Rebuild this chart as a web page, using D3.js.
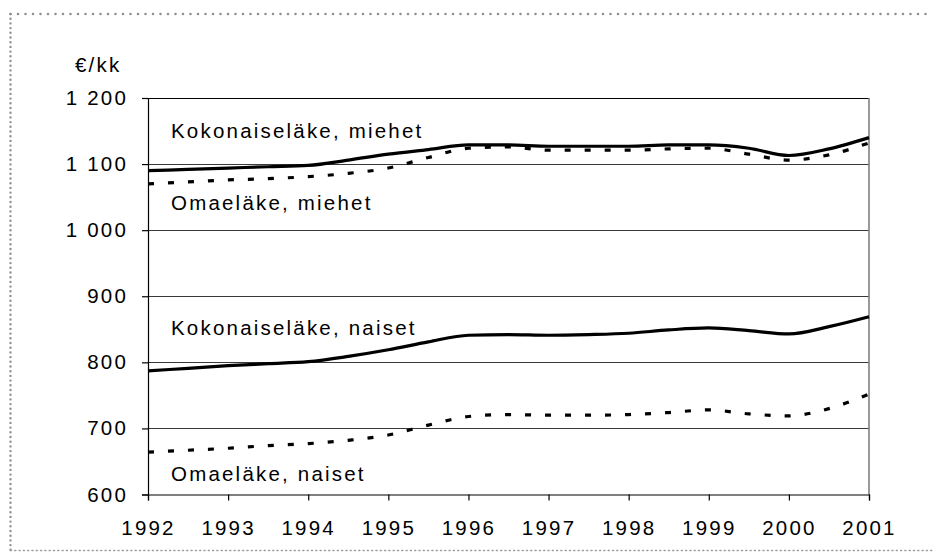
<!DOCTYPE html>
<html>
<head>
<meta charset="utf-8">
<script src="https://cdn.jsdelivr.net/npm/d3@7"></script>
<style>
  body { margin: 0; background: #fff; }
  svg text { font-family: "Liberation Sans", Arial, sans-serif; font-size: 20.5px; letter-spacing: 2.2px; fill: #000; }
</style>
</head>
<body>
<div id="chart"></div>
<script>
// half-year points 1992 ... 2001
const years = [1992, 1992.5, 1993, 1993.5, 1994, 1994.5, 1995, 1995.5, 1996, 1996.5,
               1997, 1997.5, 1998, 1998.5, 1999, 1999.5, 2000, 2000.5, 2001];
const kokMiehet = [1090, 1092, 1094, 1096, 1098, 1106, 1115, 1122, 1129, 1129,
                   1127, 1127, 1127, 1129, 1129, 1124, 1113, 1123, 1140];
const omaMiehet = [1070, 1073, 1076, 1078, 1081, 1086, 1094, 1110, 1124, 1126,
                   1121, 1121, 1121, 1123, 1124, 1115, 1106, 1114, 1132];
const kokNaiset = [787, 791, 795, 798, 801, 809, 819, 831, 841, 842,
                   841, 842, 844, 849, 852, 848, 843, 854, 869];
const omaNaiset = [664, 667, 670, 674, 677, 682, 690, 705, 718, 721,
                   720, 720, 721, 724, 728, 722, 719, 730, 752];
const xTicks = [1992, 1993, 1994, 1995, 1996, 1997, 1998, 1999, 2000, 2001];
const yTicks = [600, 700, 800, 900, 1000, 1100, 1200];
const labels = [
  { text: "Kokonaiseläke, miehet", y: 138 },
  { text: "Omaeläke, miehet", y: 210 },
  { text: "Kokonaiseläke, naiset", y: 335 },
  { text: "Omaeläke, naiset", y: 481 }
];

const W = 933, H = 552;
const plotL = 148, plotR = 869, plotT = 98, plotB = 494.5;

const svg = d3.select("#chart").append("svg")
  .attr("width", W).attr("height", H);

// dotted frame
svg.append("line").attr("x1", 10.5).attr("x2", W).attr("y1", 14).attr("y2", 14)
  .attr("stroke", "#8f8f8f").attr("stroke-width", 2.6)
  .attr("stroke-linecap", "round").attr("stroke-dasharray", "0 7.5");
svg.append("line").attr("x1", 10.5).attr("x2", 10.5).attr("y1", 14).attr("y2", 551)
  .attr("stroke", "#8f8f8f").attr("stroke-width", 2.4)
  .attr("stroke-linecap", "round").attr("stroke-dasharray", "0 4.7");
svg.append("line").attr("x1", 10.5).attr("x2", W).attr("y1", 550.5).attr("y2", 550.5)
  .attr("stroke", "#9a9a9a").attr("stroke-width", 1.5)
  .attr("stroke-linecap", "round").attr("stroke-dasharray", "1 3.3");

const x = d3.scaleLinear().domain([1992, 2001]).range([plotL, plotR]);
const y = d3.scaleLinear().domain([600, 1200]).range([plotB, plotT]);

// gridlines
svg.append("g").selectAll("line")
  .data(yTicks.filter(d => d > 600 && d < 1200))
  .join("line")
  .attr("x1", plotL).attr("x2", plotR)
  .attr("y1", d => Math.round(y(d)) + 0.5).attr("y2", d => Math.round(y(d)) + 0.5)
  .attr("stroke", "#3a3a3a").attr("stroke-width", 1);

// plot frame: top and right
svg.append("line").attr("x1", plotL).attr("x2", plotR)
  .attr("y1", Math.round(y(1200)) + 0.5).attr("y2", Math.round(y(1200)) + 0.5)
  .attr("stroke", "#000").attr("stroke-width", 1);
svg.append("line").attr("x1", plotR).attr("x2", plotR)
  .attr("y1", y(1200)).attr("y2", y(600))
  .attr("stroke", "#808080").attr("stroke-width", 1.6);

// axes
const yAxis = svg.append("g").attr("transform", `translate(${plotL},0)`)
  .call(d3.axisLeft(y).tickValues(yTicks).tickSize(6).tickPadding(14)
    .tickFormat(d => d3.format(",")(d).replace(",", " ")));
const xAxis = svg.append("g").attr("transform", `translate(0,${plotB})`)
  .call(d3.axisBottom(x).tickValues(xTicks).tickSize(6).tickPadding(20)
    .tickFormat(d3.format("d")));
[yAxis, xAxis].forEach(g => {
  g.select(".domain").attr("stroke", "#000").attr("stroke-width", 1.2);
  g.selectAll(".tick line").attr("stroke", "#000").attr("stroke-width", 1.2);
  g.attr("font-size", null).attr("font-family", null);
});
yAxis.selectAll("text").attr("dy", "0.32em");

svg.append("text").attr("x", 75).attr("y", 72).text("€/kk");

// lines
const line = d3.line()
  .x((d, i) => x(years[i]))
  .y(d => y(d))
  .curve(d3.curveMonotoneX);

const series = [
  { v: kokMiehet, dash: null },
  { v: omaMiehet, dash: "6 14" },
  { v: kokNaiset, dash: null },
  { v: omaNaiset, dash: "6 14" }
];
svg.append("g").selectAll("path")
  .data(series)
  .join("path")
  .attr("d", d => line(d.v))
  .attr("fill", "none")
  .attr("stroke", "#000")
  .attr("stroke-width", 3.2)
  .attr("stroke-dasharray", d => d.dash);

// series labels
svg.append("g").selectAll("text")
  .data(labels)
  .join("text")
  .attr("x", 171)
  .attr("y", d => d.y)
  .text(d => d.text);
</script>
</body>
</html>
